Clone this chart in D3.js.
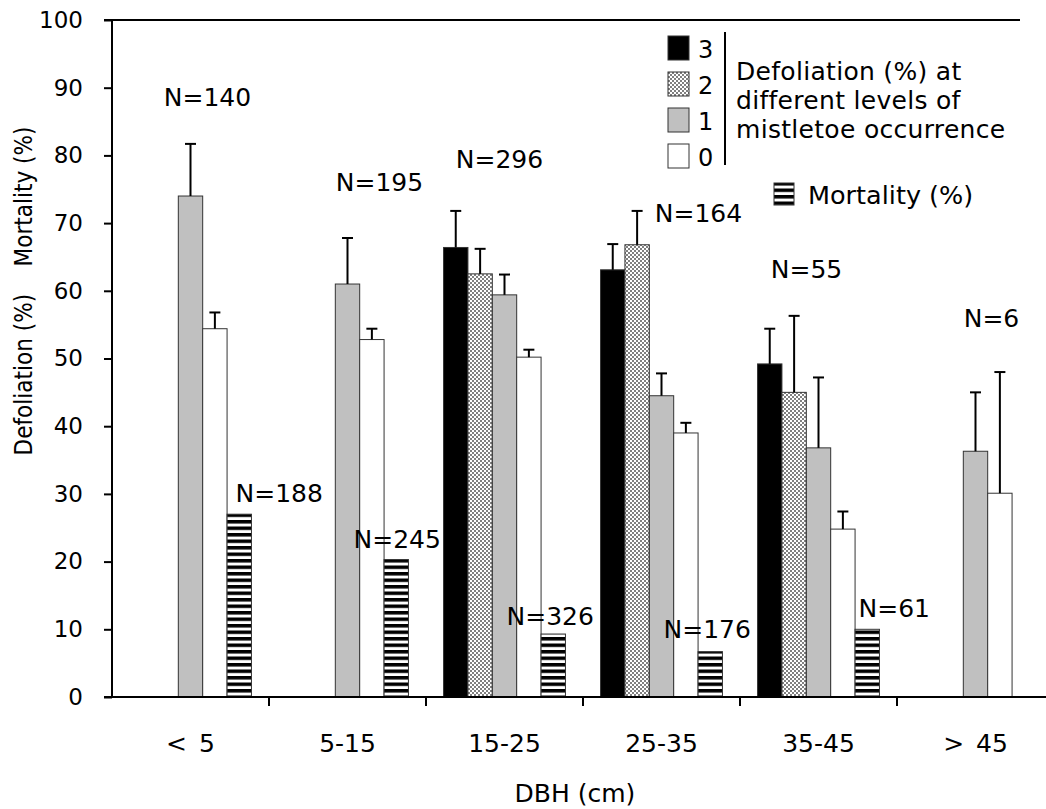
<!DOCTYPE html>
<html>
<head>
<meta charset="UTF-8">
<style>
  body { margin: 0; background: #fff; }
  svg text { fill: #000; }
  .bar { stroke: #333; stroke-width: 1px; }
  .err { stroke: #000; stroke-width: 2px; }
</style>
</head>
<body>
<svg width="1046" height="809"></svg>
<script src="https://d3js.org/d3.v7.min.js"></script>
<script>
// DBH classes
const classes = ["< 5", "5-15", "15-25", "25-35", "35-45", "> 45"];
// defoliation by mistletoe level (null = no bar)
const level3 = [null, null, 66.4, 63.1, 49.2, null];
const level2 = [null, null, 62.5, 66.8, 45.0, null];
const level1 = [74.0, 61.0, 59.4, 44.5, 36.8, 36.3];
const level0 = [54.4, 52.8, 50.2, 39.0, 24.8, 30.1];
// upper end of error bars
const err3 = [null, null, 71.8, 66.9, 54.4, null];
const err2 = [null, null, 66.2, 71.8, 56.3, null];
const err1 = [81.7, 67.8, 62.4, 47.8, 47.2, 45.0];
const err0 = [56.8, 54.4, 51.3, 40.5, 27.4, 48.0];
const mortality = [27.0, 20.3, 9.3, 6.7, 10.0, null];
// sample sizes
const nDefol = ["N=140", "N=195", "N=296", "N=164", "N=55", "N=6"];
const nMort = ["N=188", "N=245", "N=326", "N=176", "N=61", null];
const yTicks = [0, 10, 20, 30, 40, 50, 60, 70, 80, 90, 100];

const FONT = "DejaVu Sans";
const svg = d3.select("svg");
const defs = svg.append("defs");

// checkered pattern for level 2
const chk = defs.append("pattern").attr("id", "chk")
  .attr("width", 4).attr("height", 4).attr("patternUnits", "userSpaceOnUse");
chk.append("rect").attr("width", 4).attr("height", 4).attr("fill", "#fff");
chk.append("rect").attr("width", 2).attr("height", 2).attr("fill", "#808080");
chk.append("rect").attr("x", 2).attr("y", 2).attr("width", 2).attr("height", 2).attr("fill", "#808080");

// horizontal stripes for mortality
const str = defs.append("pattern").attr("id", "stripes")
  .attr("width", 6).attr("height", 6.5).attr("patternUnits", "userSpaceOnUse");
str.append("rect").attr("width", 6).attr("height", 6.5).attr("fill", "#fff");
str.append("rect").attr("width", 6).attr("height", 3.5).attr("fill", "#000");

const series = [
  { key: "3", vals: level3, err: err3, fill: "#000" },
  { key: "2", vals: level2, err: err2, fill: "url(#chk)" },
  { key: "1", vals: level1, err: err1, fill: "#c0c0c0" },
  { key: "0", vals: level0, err: err0, fill: "#fff" },
  { key: "m", vals: mortality, err: null, fill: "url(#stripes)" }
];

const mLeft = 112, mRight = 1054, mTop = 20, mBottom = 697;

const x = d3.scaleBand().domain(classes).range([mLeft, mRight]).paddingInner(0).paddingOuter(0);
const xi = d3.scaleBand().domain(series.map(s => s.key))
  .range([0, x.bandwidth()]).paddingInner(0).paddingOuter(0.72);
const y = d3.scaleLinear().domain([0, 100]).range([mBottom, mTop]);

// top frame line
svg.append("line").attr("x1", mLeft).attr("x2", 1020).attr("y1", mTop).attr("y2", mTop)
  .attr("stroke", "#000").attr("stroke-width", 2);

// bars
series.forEach(s => {
  const g = svg.append("g");
  classes.forEach((c, i) => {
    const v = s.vals[i];
    if (v == null) return;
    const bx = x(c) + xi(s.key);
    g.append("rect").attr("class", "bar")
      .attr("x", bx).attr("y", y(v))
      .attr("width", xi.bandwidth()).attr("height", y(0) - y(v))
      .attr("fill", s.fill);
    if (s.err && s.err[i] != null) {
      const cx = bx + xi.bandwidth() / 2;
      g.append("line").attr("class", "err")
        .attr("x1", cx).attr("x2", cx).attr("y1", y(v)).attr("y2", y(s.err[i]));
      g.append("line").attr("class", "err")
        .attr("x1", cx - 5.5).attr("x2", cx + 5.5).attr("y1", y(s.err[i])).attr("y2", y(s.err[i]));
    }
  });
});

// axes
const yAxis = svg.append("g").attr("transform", `translate(${mLeft},0)`)
  .call(d3.axisLeft(y).tickValues(yTicks).tickSize(8).tickPadding(21));
const xAxis = svg.append("g").attr("transform", `translate(0,${mBottom})`)
  .call(d3.axisBottom(x).tickSize(0).tickPadding(37));
[yAxis, xAxis].forEach(a => {
  a.attr("font-family", FONT);
  a.select(".domain").attr("stroke", "#000").attr("stroke-width", 2);
  a.selectAll(".tick line").attr("stroke", "#000").attr("stroke-width", 2);
});
yAxis.attr("font-size", 23);
xAxis.attr("font-size", 25);
xAxis.selectAll("text").attr("xml:space", "preserve").style("word-spacing", "4px");
yAxis.select(".domain").attr("d", `M-8,${mTop}H0V${mBottom}H-8`);
xAxis.select(".domain").attr("d", `M${mLeft},0H${mRight}`);
// category separators
svg.append("g").selectAll("line").data(classes.slice(1))
  .join("line")
  .attr("x1", d => x(d)).attr("x2", d => x(d))
  .attr("y1", mBottom).attr("y2", mBottom + 9)
  .attr("stroke", "#000").attr("stroke-width", 2);

// axis titles
svg.append("text").attr("x", 575).attr("y", 802).attr("text-anchor", "middle")
  .attr("font-family", FONT).attr("font-size", 25).text("DBH (cm)");
svg.append("text").attr("transform", "translate(32,291) rotate(-90)")
  .attr("text-anchor", "middle").attr("font-size", 24)
  .attr("font-family", "DejaVu Sans Condensed")
  .attr("xml:space", "preserve")
  .text("Defoliation (%)    Mortality (%)");

// sample size labels (y in data units, dx in px from band / bar centre)
const nDefolY = [87.3, 74.7, 78.1, 70.2, 61.9, 54.7];
const nDefolDx = [17, 32, -5, 37, -12, 16];
classes.forEach((c, i) => {
  svg.append("text").attr("font-family", FONT).attr("font-size", 25).attr("text-anchor", "middle")
    .attr("x", x(c) + x.bandwidth() / 2 + nDefolDx[i])
    .attr("y", y(nDefolY[i])).text(nDefol[i]);
});
const nMortY = [28.8, 22.0, 10.6, 8.7, 11.8];
const nMortDx = [40, 1, -3, -3, 27];
classes.forEach((c, i) => {
  if (!nMort[i]) return;
  const bx = x(c) + xi("m");
  svg.append("text").attr("font-family", FONT).attr("font-size", 25).attr("text-anchor", "middle")
    .attr("x", bx + xi.bandwidth() / 2 + nMortDx[i])
    .attr("y", y(nMortY[i])).text(nMort[i]);
});

// legend
const lg = svg.append("g").attr("font-family", FONT);
series.slice(0, 4).forEach((s, i) => {
  const ly = 36 + i * 36;
  lg.append("rect").attr("class", "bar").attr("x", 668).attr("y", ly)
    .attr("width", 21).attr("height", 24).attr("fill", s.fill);
  lg.append("text").attr("x", 698).attr("y", ly + 22).attr("font-size", 24).text(s.key);
});
lg.append("line").attr("x1", 725).attr("x2", 725).attr("y1", 32).attr("y2", 165)
  .attr("stroke", "#000").attr("stroke-width", 2);
["Defoliation (%) at", "different levels of", "mistletoe occurrence"].forEach((t, i) => {
  lg.append("text").attr("x", 736).attr("y", 80 + i * 29).attr("font-size", 25)
    .attr("letter-spacing", 0.3).text(t);
});
lg.append("rect").attr("class", "bar").attr("x", 774).attr("y", 183)
  .attr("width", 20).attr("height", 22).attr("fill", "url(#stripes)");
lg.append("text").attr("x", 808).attr("y", 204).attr("font-size", 25.5).text("Mortality (%)");
</script>
</body>
</html>
